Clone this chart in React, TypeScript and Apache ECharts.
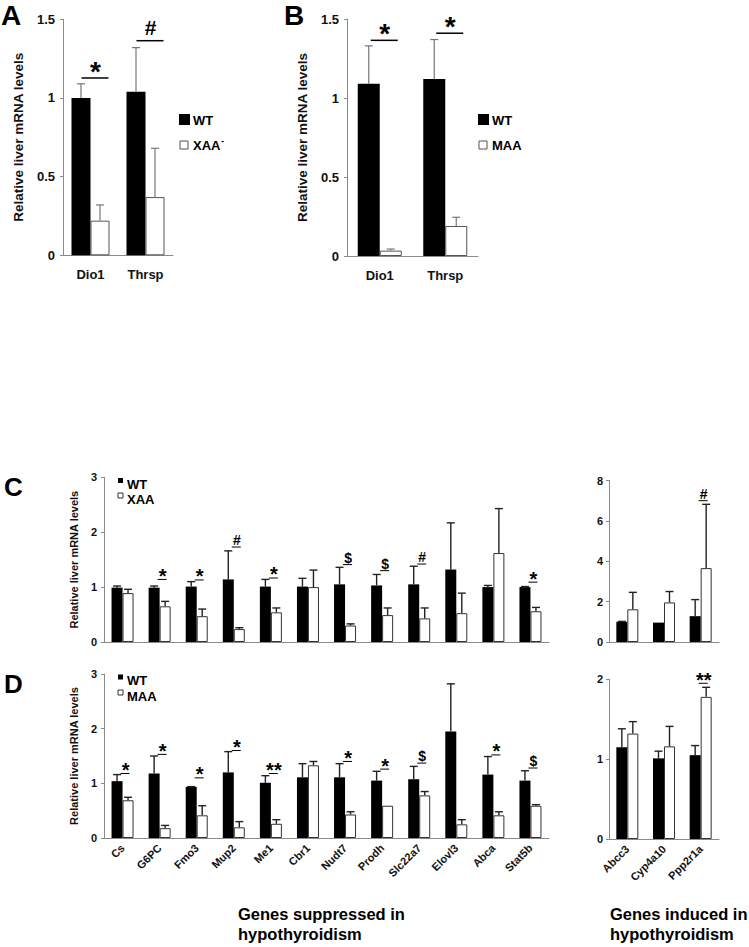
import React, { useEffect, useRef } from "react";
import * as echarts from "echarts";

const FONT = '"Liberation Sans", Arial, Helvetica, sans-serif';

// ---------- Panels A & B ----------
const abGenes = ["Dio1", "Thrsp"];
const aWT = [1.0, 1.04];
const aWTErr = [0.09, 0.28];
const aXAA = [0.22, 0.37];
const aXAAErr = [0.1, 0.31];
const aSig = [
  { gene: 0, level: 1.127, mark: "*" },
  { gene: 1, level: 1.364, mark: "#" },
];

const bWT = [1.09, 1.12];
const bWTErr = [0.24, 0.25];
const bMAA = [0.034, 0.19];
const bMAAErr = [0.01, 0.055];
const bSig = [
  { gene: 0, level: 1.365, mark: "*" },
  { gene: 1, level: 1.41, mark: "*" },
];

// ---------- Panels C & D ----------
const suppressedGenes = ["Cs", "G6PC", "Fmo3", "Mup2", "Me1", "Cbr1", "Nudt7", "Prodh", "Slc22a7", "Elovl3", "Abca", "Stat5b"];
const inducedGenes = ["Abcc3", "Cyp4a10", "Ppp2r1a"];

const cWT = [0.99, 0.99, 1.01, 1.14, 1.01, 1.01, 1.05, 1.03, 1.05, 1.32, 1.0, 1.0];
const cWTErr = [0.03, 0.03, 0.09, 0.52, 0.13, 0.15, 0.31, 0.2, 0.33, 0.85, 0.03, 0.01];
const cXAA = [0.89, 0.65, 0.47, 0.235, 0.54, 1.0, 0.3, 0.49, 0.43, 0.525, 1.62, 0.56];
const cXAAErr = [0.07, 0.09, 0.13, 0.025, 0.08, 0.31, 0.03, 0.13, 0.19, 0.365, 0.81, 0.07];
const cSig = [
  { gene: 1, level: 1.14, mark: "*" },
  { gene: 2, level: 1.13, mark: "*" },
  { gene: 3, level: 1.73, mark: "#" },
  { gene: 4, level: 1.165, mark: "*" },
  { gene: 6, level: 1.41, mark: "$" },
  { gene: 7, level: 1.3, mark: "$" },
  { gene: 8, level: 1.42, mark: "#" },
  { gene: 11, level: 1.09, mark: "*" },
];

const cIndWT = [1.0, 0.96, 1.28];
const cIndWTErr = [0.02, 0.0, 0.82];
const cIndXAA = [1.62, 1.96, 3.66];
const cIndXAAErr = [0.84, 0.54, 3.16];
const cIndSig = [{ gene: 2, level: 7.0, mark: "#" }];

const dWT = [1.04, 1.18, 0.935, 1.2, 1.01, 1.11, 1.11, 1.05, 1.075, 1.95, 1.16, 1.05];
const dWTErr = [0.12, 0.32, 0.005, 0.38, 0.13, 0.25, 0.25, 0.17, 0.235, 0.87, 0.33, 0.18];
const dMAA = [0.69, 0.18, 0.415, 0.195, 0.26, 1.33, 0.43, 0.59, 0.78, 0.25, 0.415, 0.59];
const dMAAErr = [0.055, 0.05, 0.175, 0.105, 0.075, 0.07, 0.05, 0.0, 0.07, 0.085, 0.065, 0.02];
const dSig = [
  { gene: 0, level: 1.18, mark: "*" },
  { gene: 1, level: 1.53, mark: "*" },
  { gene: 2, level: 1.1, mark: "*" },
  { gene: 3, level: 1.6, mark: "*" },
  { gene: 4, level: 1.18, mark: "**" },
  { gene: 6, level: 1.4, mark: "*" },
  { gene: 7, level: 1.26, mark: "*" },
  { gene: 8, level: 1.37, mark: "$" },
  { gene: 10, level: 1.52, mark: "*" },
  { gene: 11, level: 1.28, mark: "$" },
];

const dIndWT = [1.15, 1.01, 1.05];
const dIndWTErr = [0.23, 0.09, 0.12];
const dIndMAA = [1.32, 1.16, 1.78];
const dIndMAAErr = [0.15, 0.25, 0.12];
const dIndSig = [{ gene: 2, level: 1.95, mark: "**" }];

type Style = {
  bw: number;
  cap: number;
  errColor: string;
  errWidth: number;
  border: string;
  sx1: number;
  sx2: number;
  stx: number;
  starFs: number;
  otherFs: number;
  starGap: number;
  otherGap: number;
  sigWidth: number;
};

const abStyle = (bw: number, starGap: number): Style => ({
  bw, cap: 4, errColor: "#777", errWidth: 1.2, border: "#555",
  sx1: -9, sx2: 18, stx: 5, starFs: 28, otherFs: 21, starGap, otherGap: 6, sigWidth: 1.5,
});
const cdStyle: Style = {
  bw: 11, cap: 4, errColor: "#222", errWidth: 1.4, border: "#333",
  sx1: -2, sx2: 7, stx: 3, starFs: 20, otherFs: 14, starGap: 0, otherGap: 2, sigWidth: 1,
};

function panelSeries(idx: number, wt: number[], wtErr: number[], other: number[], otherErr: number[], otherName: string, sig: { gene: number; level: number; mark: string }[], st: Style) {
  const errData: number[][] = [];
  wt.forEach((v, i) => errData.push([i, v, wtErr[i], -1]));
  other.forEach((v, i) => errData.push([i, v, otherErr[i], 1]));
  return [
    {
      type: "bar", name: "WT", xAxisIndex: idx, yAxisIndex: idx, data: wt, barWidth: st.bw, barGap: "0%",
      itemStyle: { color: "#000" }, silent: true,
    },
    {
      type: "bar", name: otherName, xAxisIndex: idx, yAxisIndex: idx, data: other, barWidth: st.bw, barGap: "0%",
      itemStyle: { color: "#fff", borderColor: st.border, borderWidth: 1 }, silent: true,
    },
    {
      type: "custom", xAxisIndex: idx, yAxisIndex: idx, data: errData, z: 3, silent: true,
      renderItem: (params: any, api: any) => {
        const i = api.value(0), v = api.value(1), e = api.value(2), side = api.value(3);
        if (!(e > 0)) return { type: "group", children: [] };
        const base = api.coord([i, v]);
        const top = api.coord([i, v + e]);
        const x = base[0] + (side * st.bw) / 2;
        const style = { stroke: st.errColor, lineWidth: st.errWidth };
        return {
          type: "group",
          children: [
            { type: "line", shape: { x1: x, y1: base[1], x2: x, y2: top[1] }, style },
            { type: "line", shape: { x1: x - st.cap, y1: top[1], x2: x + st.cap, y2: top[1] }, style },
          ],
        };
      },
    },
    {
      type: "custom", xAxisIndex: idx, yAxisIndex: idx, data: sig.map((s) => [s.gene, s.level]), z: 4, silent: true,
      renderItem: (params: any, api: any) => {
        const s = sig[params.dataIndex];
        const p = api.coord([api.value(0), api.value(1)]);
        const isStar = s.mark.startsWith("*");
        const fs = isStar ? st.starFs : st.otherFs;
        const ty = isStar ? p[1] - st.starGap - 0.18 * fs : p[1] - st.otherGap - 0.36 * fs;
        return {
          type: "group",
          children: [
            { type: "line", shape: { x1: p[0] + st.sx1, y1: p[1], x2: p[0] + st.sx2, y2: p[1] }, style: { stroke: "#000", lineWidth: st.sigWidth } },
            {
              type: "text", x: p[0] + st.stx, y: ty,
              style: { text: s.mark, fontSize: fs, fontWeight: "bold", fontFamily: FONT, fill: "#000", align: "center", verticalAlign: "middle" },
            },
          ],
        };
      },
    },
  ];
}

const axisColor = "#8a8a8a";

function xAxisDef(idx: number, cats: string[], label: any) {
  return {
    type: "category", gridIndex: idx, data: cats,
    axisLine: { lineStyle: { color: axisColor, width: 1 } },
    axisTick: { show: false },
    axisLabel: label,
  };
}

function yAxisDef(idx: number, max: number, interval: number, fs: number, margin: number, name?: string, nameFs?: number, nameGap?: number) {
  return {
    type: "value", gridIndex: idx, min: 0, max, interval,
    axisLine: { show: true, lineStyle: { color: axisColor, width: 1 } },
    axisTick: { show: true, length: 3, lineStyle: { color: axisColor } },
    splitLine: { show: false },
    axisLabel: { fontSize: fs, fontWeight: "bold", color: "#111", fontFamily: FONT, margin },
    name: name || "",
    nameLocation: "middle",
    nameRotate: 90,
    nameGap: nameGap || 0,
    nameTextStyle: { fontSize: nameFs || 12, fontWeight: "bold", color: "#111", fontFamily: FONT },
  };
}

const yName = "Relative liver mRNA levels";

function txt(x: number, y: number, text: string, fs: number, align = "left") {
  return {
    type: "text", x, y, silent: true,
    style: { text, fontSize: fs, fontWeight: "bold", fontFamily: FONT, fill: "#000", align, verticalAlign: "middle", textAlign: align, textVerticalAlign: "middle" },
  };
}
function box(x: number, y: number, s: number, fill: string, stroke?: string) {
  return {
    type: "rect", x, y, silent: true, shape: { x: 0, y: 0, width: s, height: s },
    style: { fill, stroke: stroke || null, lineWidth: stroke ? 1 : 0 },
  };
}

export default function App() {
  const ref = useRef<HTMLDivElement>(null);
  useEffect(() => {
    if (!ref.current) return;
    const chart = echarts.init(ref.current, null, { renderer: "svg" });
    const abLabel = { fontSize: 13, fontWeight: "bold", color: "#111", fontFamily: FONT, margin: 13, interval: 0 };
    const rotLabel = { fontSize: 11, fontWeight: "bold", color: "#111", fontFamily: FONT, margin: 8, interval: 0, rotate: 45 };
    const option: any = {
      animation: false,
      backgroundColor: "#fff",
      grid: [
        { left: 63, top: 19.3, width: 110, height: 236 },
        { left: 347, top: 19, width: 131, height: 237 },
        { left: 104, top: 477.3, width: 445, height: 164.7 },
        { left: 609, top: 480.5, width: 110, height: 161.5 },
        { left: 104, top: 674, width: 445, height: 164 },
        { left: 609, top: 679.3, width: 110, height: 159.7 },
      ],
      xAxis: [
        xAxisDef(0, abGenes, abLabel),
        xAxisDef(1, abGenes, abLabel),
        xAxisDef(2, suppressedGenes, { show: false }),
        xAxisDef(3, inducedGenes, { show: false }),
        xAxisDef(4, suppressedGenes, rotLabel),
        xAxisDef(5, inducedGenes, rotLabel),
      ],
      yAxis: [
        yAxisDef(0, 1.5, 0.5, 13, 8, yName, 13.5, 37.5),
        yAxisDef(1, 1.5, 0.5, 13, 8, yName, 13.5, 37.5),
        yAxisDef(2, 3, 1, 11, 7, yName, 11, 21.5),
        yAxisDef(3, 8, 2, 11, 6),
        yAxisDef(4, 3, 1, 11, 7, yName, 11, 21.5),
        yAxisDef(5, 2, 1, 11, 6),
      ],
      series: [
        ...panelSeries(0, aWT, aWTErr, aXAA, aXAAErr, "XAA-", aSig, abStyle(19, 1)),
        ...panelSeries(1, bWT, bWTErr, bMAA, bMAAErr, "MAA", bSig, abStyle(22, 2)),
        ...panelSeries(2, cWT, cWTErr, cXAA, cXAAErr, "XAA", cSig, cdStyle),
        ...panelSeries(3, cIndWT, cIndWTErr, cIndXAA, cIndXAAErr, "XAA", cIndSig, cdStyle),
        ...panelSeries(4, dWT, dWTErr, dMAA, dMAAErr, "MAA", dSig, cdStyle),
        ...panelSeries(5, dIndWT, dIndWTErr, dIndMAA, dIndMAAErr, "MAA", dIndSig, cdStyle),
      ],
      graphic: [
        // panel letters
        txt(1, 15, "A", 28),
        txt(284, 15, "B", 28),
        txt(4, 487, "C", 26),
        txt(4, 684, "D", 26),
        // legend A
        box(179, 114, 11, "#000"),
        txt(193, 120, "WT", 13),
        box(180, 141, 8, "#fff", "#555"),
        txt(193, 145, "XAA", 13),
        txt(221, 141, "-", 9),
        // legend B
        box(478, 114, 11, "#000"),
        txt(492, 120, "WT", 13),
        box(479, 141, 8, "#fff", "#555"),
        txt(492, 145, "MAA", 13),
        // legend C
        box(118, 478, 5, "#000"),
        txt(127, 484, "WT", 13),
        box(118, 493, 5, "#fff", "#333"),
        txt(127, 499, "XAA", 13),
        // legend D
        box(118, 674.5, 5, "#000"),
        txt(127, 680, "WT", 13),
        box(118, 690, 5, "#fff", "#333"),
        txt(127, 696, "MAA", 13),
        // bottom titles
        txt(238, 914, "Genes suppressed in", 16.5),
        txt(238, 933.5, "hypothyroidism", 16.5),
        txt(610, 914, "Genes induced in", 16.5),
        txt(610, 933.5, "hypothyroidism", 16.5),
      ],
    };
    chart.setOption(option);
    return () => chart.dispose();
  }, []);
  return <div ref={ref} style={{ position: "absolute", left: 0, top: 0, width: 749, height: 947, background: "#fff" }} />;
}
